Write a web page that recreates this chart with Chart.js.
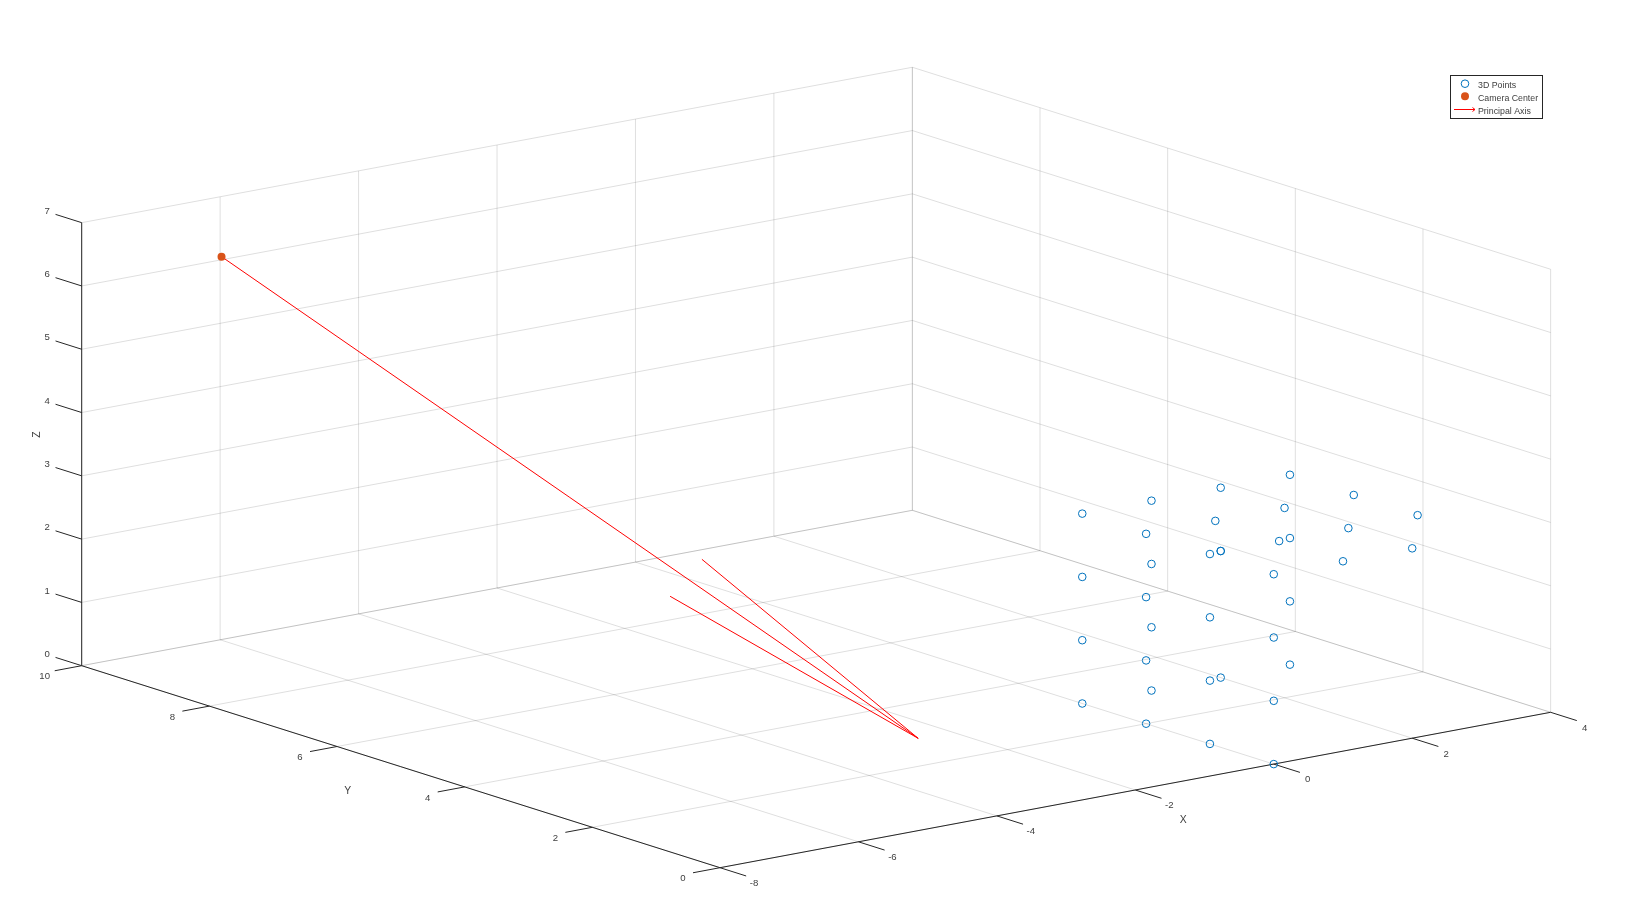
<!DOCTYPE html>
<html>
<head>
<meta charset="utf-8">
<title>Camera pose</title>
<script src="https://cdn.jsdelivr.net/npm/chart.js@4"></script>
<style>
  html, body { margin: 0; padding: 0; background: #ffffff; }
  canvas { display: block; }
</style>
</head>
<body>
<canvas id="chart" width="1627" height="914"></canvas>
<script>
'use strict';

// tick values of the three axes
var xTicks = [-8, -6, -4, -2, 0, 2, 4];
var yTicks = [0, 2, 4, 6, 8, 10];
var zTicks = [0, 1, 2, 3, 4, 5, 6, 7];

// calibration points, columns are x, y, z
var pointsX = [
  0, 0, 0, 0, 0, 0, 0, 0, 0, 0, 0, 0, 0, 0, 0, 0,
  1, 1, 1, 1, 2, 2, 2, 2, 3, 3, 3, 3,
  1, 2, 1, 2, 3, 1, 2, 3
];
var pointsY = [
  0, 0, 0, 0, 1, 1, 1, 1, 2, 2, 2, 2, 3, 3, 3, 3,
  3, 3, 3, 3, 3, 3, 3, 3, 3, 3, 3, 3,
  0, 0, 1, 1, 1, 2, 2, 2
];
var pointsZ = [
  0, 1, 2, 3, 0, 1, 2, 3, 0, 1, 2, 3, 0, 1, 2, 3,
  0, 1, 2, 3, 0, 2, 2, 3, 0, 1, 2, 3,
  3, 3, 3, 3, 3, 3, 3, 3
];

var cameraCenter = [-5.98, 10, 6.05];

// principal axis, shaft from the camera to the tip plus the two head strokes
var axisTip = [-2.49, 2.87, 0];
var axisHeadA = [-3.42, 5.25, 2.26];
var axisHeadB = [-3.88, 5.25, 1.77];

var legendLabels = ['3D Points', 'Camera Center', 'Principal Axis'];

var BLUE = '#0072BD';
var ORANGE = '#D95319';
var RED = '#ff0000';
var GRID = 'rgba(0,0,0,0.13)';
var AXIS = '#262626';
var TEXT = '#404040';
var FONT = '"Liberation Sans", Arial, sans-serif';

// orthographic view: screen position of (x=-8, y=0, z=0) and the step per data unit
function project(p) {
  return {
    x: 720 + (p[0] + 8) * 69.22 - p[1] * 63.83,
    y: 867.7 - (p[0] + 8) * 12.95 - p[1] * 20.2 - p[2] * 63.29
  };
}

function lineSet(from, to, color, order) {
  return {
    type: 'line',
    data: [project(from), project(to)],
    borderColor: color,
    borderWidth: 1,
    pointRadius: 0,
    fill: false,
    tension: 0,
    order: order
  };
}

var xMin = xTicks[0], xMax = xTicks[xTicks.length - 1];
var yMin = yTicks[0], yMax = yTicks[yTicks.length - 1];
var zMin = zTicks[0], zMax = zTicks[zTicks.length - 1];

var datasets = [];

// grid on the back walls and the floor
xTicks.forEach(function(x) {
  datasets.push(lineSet([x, yMax, zMin], [x, yMax, zMax], GRID, 10));
  datasets.push(lineSet([x, yMin, zMin], [x, yMax, zMin], GRID, 10));
});
yTicks.forEach(function(y) {
  datasets.push(lineSet([xMax, y, zMin], [xMax, y, zMax], GRID, 10));
  datasets.push(lineSet([xMin, y, zMin], [xMax, y, zMin], GRID, 10));
});
zTicks.forEach(function(z) {
  datasets.push(lineSet([xMin, yMax, z], [xMax, yMax, z], GRID, 10));
  datasets.push(lineSet([xMax, yMin, z], [xMax, yMax, z], GRID, 10));
});

// axis lines and tick marks
datasets.push(lineSet([xMin, yMin, zMin], [xMax, yMin, zMin], AXIS, 5));
datasets.push(lineSet([xMin, yMin, zMin], [xMin, yMax, zMin], AXIS, 5));
datasets.push(lineSet([xMin, yMax, zMin], [xMin, yMax, zMax], AXIS, 5));
xTicks.forEach(function(x) {
  datasets.push(lineSet([x, yMin, zMin], [x, yMin - 0.41, zMin], AXIS, 5));
});
yTicks.forEach(function(y) {
  datasets.push(lineSet([xMin, y, zMin], [xMin - 0.39, y, zMin], AXIS, 5));
});
zTicks.forEach(function(z) {
  datasets.push(lineSet([xMin, yMax, z], [xMin, yMax + 0.41, z], AXIS, 5));
});

// principal axis
datasets.push(lineSet(cameraCenter, axisTip, RED, 3));
datasets.push(lineSet(axisHeadA, axisTip, RED, 3));
datasets.push(lineSet(axisHeadB, axisTip, RED, 3));

datasets.push({
  type: 'scatter',
  data: pointsX.map(function(x, i) {
    return project([x, pointsY[i], pointsZ[i]]);
  }),
  showLine: false,
  pointRadius: 3.8,
  pointBorderWidth: 1,
  pointBorderColor: BLUE,
  pointBackgroundColor: 'rgba(0,0,0,0)',
  order: 2
});

datasets.push({
  type: 'scatter',
  data: [project(cameraCenter)],
  showLine: false,
  pointRadius: 4,
  pointBorderWidth: 0,
  pointBackgroundColor: ORANGE,
  order: 1
});

function label(ctx, text, x, y, size) {
  ctx.font = size + 'px ' + FONT;
  ctx.fillText(text, x, y);
}

// tick labels, axis titles and the legend box
var annotations = {
  id: 'annotations',
  afterDraw: function(chart) {
    var ctx = chart.ctx;
    var sx = chart.scales.x;
    var sy = chart.scales.y;
    ctx.save();
    ctx.fillStyle = TEXT;
    ctx.textAlign = 'center';
    ctx.textBaseline = 'middle';

    xTicks.forEach(function(x) {
      var p = project([x, yMin, zMin]);
      label(ctx, String(x), sx.getPixelForValue(p.x) + 34, sy.getPixelForValue(p.y) + 15.7, 9.6);
    });
    yTicks.forEach(function(y) {
      var p = project([xMin, y, zMin]);
      label(ctx, String(y), sx.getPixelForValue(p.x) - 37, sy.getPixelForValue(p.y) + 11, 9.6);
    });
    zTicks.forEach(function(z) {
      var p = project([xMin, yMax, z]);
      label(ctx, String(z), sx.getPixelForValue(p.x) - 34.5, sy.getPixelForValue(p.y) - 11.5, 9.6);
    });

    label(ctx, 'X', 1183.3, 819.7, 10.4);
    label(ctx, 'Y', 347.7, 791.4, 10.4);
    ctx.save();
    ctx.translate(37.5, 434.7);
    ctx.rotate(-Math.PI / 2);
    label(ctx, 'Z', 0, 0, 10.4);
    ctx.restore();

    // legend
    ctx.fillStyle = '#ffffff';
    ctx.fillRect(1450.5, 75.5, 92, 43);
    ctx.strokeStyle = AXIS;
    ctx.lineWidth = 1;
    ctx.strokeRect(1450.5, 75.5, 92, 43);

    ctx.strokeStyle = BLUE;
    ctx.beginPath();
    ctx.arc(1465, 83.7, 3.8, 0, 2 * Math.PI);
    ctx.stroke();

    ctx.fillStyle = ORANGE;
    ctx.beginPath();
    ctx.arc(1465, 96.3, 4, 0, 2 * Math.PI);
    ctx.fill();

    ctx.strokeStyle = RED;
    ctx.beginPath();
    ctx.moveTo(1454, 109.5);
    ctx.lineTo(1475, 109.5);
    ctx.moveTo(1472.5, 107.5);
    ctx.lineTo(1475, 109.5);
    ctx.lineTo(1472.5, 111.5);
    ctx.stroke();

    ctx.fillStyle = TEXT;
    ctx.textAlign = 'left';
    legendLabels.forEach(function(text, i) {
      label(ctx, text, 1478, 85.5 + i * 12.8, 8.8);
    });
    ctx.restore();
  }
};

var chart = new Chart(document.getElementById('chart').getContext('2d'), {
  type: 'scatter',
  data: { datasets: datasets },
  options: {
    responsive: false,
    animation: false,
    devicePixelRatio: 1,
    parsing: false,
    layout: { padding: 0, autoPadding: false },
    plugins: {
      legend: { display: false },
      tooltip: { enabled: false },
      title: { display: false }
    },
    scales: {
      x: { type: 'linear', display: false, min: 0, max: 1627 },
      y: { type: 'linear', display: false, min: 0, max: 914, reverse: true }
    }
  },
  plugins: [annotations]
});
</script>
</body>
</html>
